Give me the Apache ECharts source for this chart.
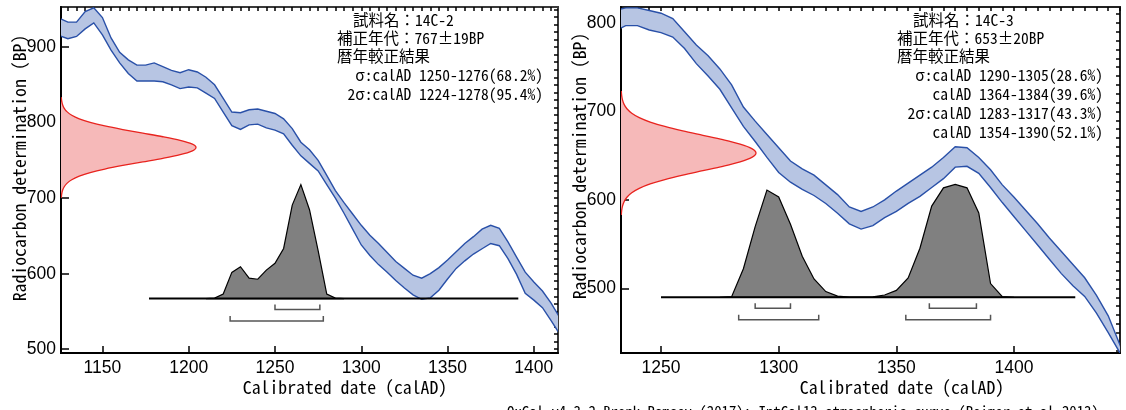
<!DOCTYPE html>
<html>
<head>
<meta charset="utf-8">
<script src="https://cdn.jsdelivr.net/npm/echarts@6/dist/echarts.min.js"></script>
<style>
  html, body { margin: 0; padding: 0; background: #fff; }
  #chart { width: 1126px; height: 410px; }
</style>
</head>
<body>
<div id="chart"></div>
<script>
// ---------- Sample 14C-2 ----------
const s2Name = '14C-2';
const s2Age = 767, s2Err = 19;
const s2CurveYears = [1125,1130,1135,1140,1145,1150,1155,1160,1165,1170,1175,1180,1185,1190,1195,1200,1205,1210,1215,1220,1225,1230,1235,1240,1245,1250,1255,1260,1265,1270,1275,1280,1285,1290,1295,1300,1305,1310,1315,1320,1325,1330,1335,1340,1345,1350,1355,1360,1365,1370,1375,1380,1385,1390,1395,1400,1405,1410,1415];
const s2CurveUpper = [938,933,933,947,952,939,912,893,883,876,876,879,874,869,866,870,867,860,850,832,814,813,817,818,815,812,805,792,774,764,750,730,710,694,679,664,651,640,628,616,607,598,594,600,608,618,629,640,649,659,664,660,642,622,602,589,577,561,542];
const s2CurveLower = [915,911,914,924,932,916,896,879,865,855,855,855,854,850,845,847,846,839,832,814,796,791,797,798,793,790,785,770,756,746,736,718,700,680,659,638,624,612,602,591,581,572,566,568,578,593,607,617,626,633,640,637,620,599,574,565,555,538,520];
const s2ProbYears = [1210,1215,1220,1225,1230,1235,1240,1245,1250,1255,1260,1265,1270,1275,1280,1285,1290];
const s2Prob = [0,0.005,0.04,0.23,0.28,0.18,0.17,0.25,0.31,0.44,0.82,1.0,0.78,0.42,0.04,0.005,0];
const s2Baseline = [1177, 1391];
const s2Range1 = [[1250, 1276]];
const s2Range2 = [[1224, 1278]];
const s2Lines = ['σ:calAD 1250-1276(68.2%)', '2σ:calAD 1224-1278(95.4%)'];

// ---------- Sample 14C-3 ----------
const s3Name = '14C-3';
const s3Age = 653, s3Err = 20;
const s3CurveYears = [1230,1235,1240,1245,1250,1255,1260,1265,1270,1275,1280,1285,1290,1295,1300,1305,1310,1315,1320,1325,1330,1335,1340,1345,1350,1355,1360,1365,1370,1375,1380,1385,1390,1395,1400,1405,1410,1415,1420,1425,1430,1435,1440,1445,1450];
const s3CurveUpper = [814,817,817,814,811,805,790,775,763,748,730,705,689,674,659,644,635,628,617,606,592,587,592,600,610,619,628,637,648,660,659,648,634,617,603,588,573,557,542,527,512,492,469,436,400];
const s3CurveLower = [790,797,797,792,789,784,771,754,740,725,704,683,666,648,631,620,612,605,596,585,573,567,571,580,587,596,604,614,624,637,638,630,614,597,581,565,549,533,517,503,491,472,450,427,395];
const s3ProbYears = [1275,1280,1285,1290,1295,1300,1305,1310,1315,1320,1325,1330,1335,1340,1345,1350,1355,1360,1365,1370,1375,1380,1385,1390,1395,1400];
const s3Prob = [0,0.005,0.25,0.62,0.94,0.88,0.64,0.36,0.16,0.05,0.01,0.002,0.001,0.003,0.02,0.06,0.17,0.43,0.80,0.96,0.99,0.96,0.74,0.12,0.005,0];
const s3Baseline = [1250, 1426];
const s3Range1 = [[1290, 1305], [1364, 1384]];
const s3Range2 = [[1283, 1317], [1354, 1390]];
const s3Lines = ['σ:calAD 1290-1305(28.6%)', 'calAD 1364-1384(39.6%)', '2σ:calAD 1283-1317(43.3%)', 'calAD 1354-1390(52.1%)'];

// ---------- axes ----------
const leftXRange = [1126, 1414], leftYRange = [495, 953];
const rightXRange = [1233, 1445], rightYRange = [427, 818];
const leftXTicks = [1150, 1200, 1250, 1300, 1350, 1400];
const rightXTicks = [1250, 1300, 1350, 1400];
const leftYTicks = [500, 600, 700, 800, 900];
const rightYTicks = [500, 600, 700, 800];

// standard normal shape, exp(-z^2/2) at z = 0, 0.25, ... 3.5
const normalProfile = [1.0000,0.9692,0.8825,0.7548,0.6065,0.4578,0.3247,0.2163,0.1353,0.0796,0.0439,0.0228,0.0111,0.0051,0.0022];

function steps(a, b, step) {
  const out = [];
  for (let v = Math.ceil(a / step) * step; v <= b; v += step) out.push(v);
  return out;
}

const BAND_FILL = '#b7c5e3';
const BAND_LINE = '#2950a8';
const RED_FILL = '#f6b9b9';
const RED_LINE = '#e8231e';
const MONO = '"Noto Sans Mono CJK JP", "Noto Sans CJK JP", "DejaVu Sans Mono", monospace';
const NUM = '"Liberation Sans Narrow", "Liberation Sans", sans-serif';

function bandSeries(idx, years, upper, lower) {
  return {
    type: 'custom', xAxisIndex: idx * 2, yAxisIndex: idx * 2, clip: true, z: 2,
    data: [[years[0], upper[0]]],
    renderItem: function (params, api) {
      const up = years.map((x, i) => api.coord([x, upper[i]]));
      const lo = years.map((x, i) => api.coord([x, lower[i]]));
      return {
        type: 'group',
        children: [
          { type: 'polygon', shape: { points: up.concat(lo.slice().reverse()) }, style: { fill: BAND_FILL } },
          { type: 'polyline', shape: { points: up }, style: { stroke: BAND_LINE, lineWidth: 1.4, fill: null } },
          { type: 'polyline', shape: { points: lo }, style: { stroke: BAND_LINE, lineWidth: 1.4, fill: null } }
        ]
      };
    }
  };
}

// measured age drawn as a normal curve standing on the y axis
function ageSeries(idx, xMin, age, err) {
  const PEAK_PX = 135;
  const zMax = (normalProfile.length - 1) * 0.25;
  return {
    type: 'custom', xAxisIndex: idx * 2, yAxisIndex: idx * 2, clip: true, z: 3,
    data: [[xMin, age]],
    renderItem: function (params, api) {
      const pts = [];
      for (let k = normalProfile.length - 1; k > 0; k--) pts.push([-k * 0.25, normalProfile[k]]);
      for (let k = 0; k < normalProfile.length; k++) pts.push([k * 0.25, normalProfile[k]]);
      const curve = pts.map(p => {
        const c = api.coord([xMin, age + p[0] * err]);
        return [c[0] + p[1] * PEAK_PX, c[1]];
      });
      const b0 = api.coord([xMin, age - zMax * err]);
      const b1 = api.coord([xMin, age + zMax * err]);
      return {
        type: 'group',
        children: [
          { type: 'polygon', shape: { points: [b0].concat(curve, [b1]), smooth: 0.3 }, style: { fill: RED_FILL } },
          { type: 'polyline', shape: { points: curve, smooth: 0.3 }, style: { stroke: RED_LINE, lineWidth: 1.3, fill: null } }
        ]
      };
    }
  };
}

// calibrated probability, baseline and range brackets
function probSeries(idx, baseBP, years, prob, baseline, r1, r2) {
  const PEAK_PX = 114;
  return {
    type: 'custom', xAxisIndex: idx * 2, yAxisIndex: idx * 2, clip: true, z: 4,
    data: [[years[0], baseBP]],
    renderItem: function (params, api) {
      const pts = years.map((x, i) => {
        const c = api.coord([x, baseBP]);
        return [c[0], c[1] - prob[i] * PEAK_PX];
      });
      const l0 = api.coord([baseline[0], baseBP]);
      const l1 = api.coord([baseline[1], baseBP]);
      const children = [
        { type: 'polygon', shape: { points: pts }, style: { fill: '#808080', stroke: '#000', lineWidth: 1.2 } },
        { type: 'line', shape: { x1: l0[0], y1: l0[1], x2: l1[0], y2: l1[1] }, style: { stroke: '#000', lineWidth: 2 } }
      ];
      const bracket = (r, off) => {
        const a = api.coord([r[0], baseBP]);
        const b = api.coord([r[1], baseBP]);
        const y = a[1] + off;
        return { type: 'polyline', shape: { points: [[a[0], y - 5], [a[0], y], [b[0], y], [b[0], y - 5]] },
                 style: { stroke: '#555', lineWidth: 1.5, fill: null } };
      };
      r1.forEach(r => children.push(bracket(r, 11)));
      r2.forEach(r => children.push(bracket(r, 22.5)));
      return { type: 'group', children: children };
    }
  };
}

function axesFor(idx, xr, yr, xt, yt) {
  const tickStyle = { color: '#000', width: 1.5 };
  const xs = [
    { gridIndex: idx, type: 'value', min: xr[0], max: xr[1],
      axisLine: { show: true, onZero: false, lineStyle: { color: '#000', width: 2 } },
      axisTick: { show: true, inside: true, length: 7, customValues: xt, lineStyle: tickStyle },
      axisLabel: { show: true, customValues: xt, formatter: v => String(v), color: '#000', fontFamily: NUM, fontSize: 17.5, margin: 6 },
      splitLine: { show: false } },
    { gridIndex: idx, type: 'value', min: xr[0], max: xr[1],
      axisLine: { show: false, onZero: false },
      axisTick: { show: true, inside: true, length: 4, customValues: steps(xr[0], xr[1], 5), lineStyle: tickStyle },
      axisLabel: { show: false }, splitLine: { show: false } }
  ];
  const ys = [
    { gridIndex: idx, type: 'value', min: yr[0], max: yr[1],
      axisLine: { show: true, onZero: false, lineStyle: { color: '#000', width: 2 } },
      axisTick: { show: true, inside: true, length: 8, customValues: yt, lineStyle: tickStyle },
      axisLabel: { show: true, customValues: yt, formatter: v => String(v), color: '#000', fontFamily: NUM, fontSize: 17.5, margin: 5 },
      splitLine: { show: false } },
    { gridIndex: idx, type: 'value', min: yr[0], max: yr[1],
      axisLine: { show: false, onZero: false },
      axisTick: { show: true, inside: true, length: 4, customValues: steps(yr[0], yr[1], 10), lineStyle: tickStyle },
      axisLabel: { show: false }, splitLine: { show: false } }
  ];
  return { xs, ys };
}

const a0 = axesFor(0, leftXRange, leftYRange, leftXTicks, leftYTicks);
const a1 = axesFor(1, rightXRange, rightYRange, rightXTicks, rightYTicks);

function txt(x, y, text, opts) {
  return {
    type: 'text', x: x, y: y, z: 10,
    style: Object.assign({ text: text, fill: '#000', font: '15.5px ' + MONO, align: 'left', verticalAlign: 'middle' }, opts || {})
  };
}

function infoBlock(xLeft, xRight, name, age, err, lines) {
  const out = [
    txt(xLeft + 16, 20, '試料名：' + name),
    txt(xLeft, 38, '補正年代：' + age + '±' + err + 'BP'),
    txt(xLeft, 56, '暦年較正結果')
  ];
  lines.forEach((l, i) => out.push(txt(xRight, 75 + i * 19, l, { align: 'right' })));
  return out;
}

const Y_TITLE = 'Radiocarbon determination (BP)';
const X_TITLE = 'Calibrated date (calAD)';

const graphics = [].concat(
  infoBlock(337, 543, s2Name, s2Age, s2Err, s2Lines),
  infoBlock(897, 1103, s3Name, s3Age, s3Err, s3Lines),
  [
    Object.assign(txt(19, 168, Y_TITLE, { align: 'center', font: '17.8px ' + MONO }), { rotation: Math.PI / 2 }),
    Object.assign(txt(579, 166, Y_TITLE, { align: 'center', font: '17.8px ' + MONO }), { rotation: Math.PI / 2 }),
    txt(345, 387, X_TITLE, { align: 'center', font: '17.8px ' + MONO }),
    txt(902, 387, X_TITLE, { align: 'center', font: '17.8px ' + MONO }),
    txt(507, 404, 'OxCal v4.3.2 Bronk Ramsey (2017); IntCal13 atmospheric curve (Reimer et al 2013)', { verticalAlign: 'top', font: '14.8px ' + MONO })
  ]
);

const chart = echarts.init(document.getElementById('chart'), null, { renderer: 'canvas' });
chart.setOption({
  animation: false,
  backgroundColor: '#fff',
  grid: [
    { left: 61, top: 7, width: 497, height: 346, show: true, borderColor: '#3a3a3a', borderWidth: 2, backgroundColor: 'transparent' },
    { left: 621, top: 7, width: 499, height: 346, show: true, borderColor: '#222', borderWidth: 2, backgroundColor: 'transparent' }
  ],
  xAxis: a0.xs.concat(a1.xs),
  yAxis: a0.ys.concat(a1.ys),
  series: [
    bandSeries(0, s2CurveYears, s2CurveUpper, s2CurveLower),
    ageSeries(0, leftXRange[0], s2Age, s2Err),
    probSeries(0, 567, s2ProbYears, s2Prob, s2Baseline, s2Range1, s2Range2),
    bandSeries(1, s3CurveYears, s3CurveUpper, s3CurveLower),
    ageSeries(1, rightXRange[0], s3Age, s3Err),
    probSeries(1, 490, s3ProbYears, s3Prob, s3Baseline, s3Range1, s3Range2)
  ],
  graphic: graphics
});
</script>
</body>
</html>
